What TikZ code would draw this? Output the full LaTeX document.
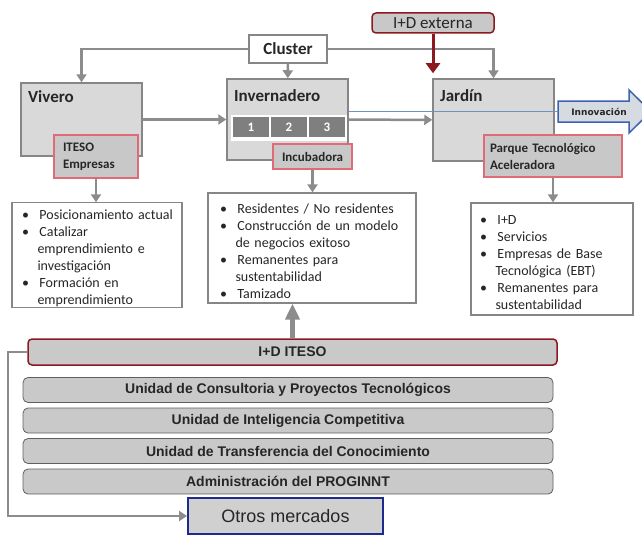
\documentclass[tikz,border=0pt]{standalone}
\usepackage{fontspec}
\setmainfont{Carlito}
\newfontfamily\arialf{Liberation Sans}
\newfontfamily\verdf{DejaVu Sans}
\usetikzlibrary{arrows.meta}

\definecolor{framegray}{HTML}{868686}
\definecolor{linegray}{HTML}{8C8C8C}
\definecolor{stagefill}{HTML}{D9D9D9}
\definecolor{tagfill}{HTML}{C8C8C8}
\definecolor{tagred}{HTML}{E06A76}
\definecolor{cellgray}{HTML}{7F7F7F}
\definecolor{extred}{HTML}{8B1A1E}
\definecolor{innblue}{HTML}{3B63B2}
\definecolor{innfill}{HTML}{D6DAE1}
\definecolor{innline}{HTML}{7090C8}
\definecolor{unitfill}{HTML}{C9C9C9}
\definecolor{unitborder}{HTML}{5F5F5F}
\definecolor{otrosblue}{HTML}{1C2A8E}
\definecolor{otrosfill}{HTML}{D0D0D0}
\definecolor{txt}{HTML}{262626}

\newenvironment{bullets}{\begin{list}{\textbullet}{\setlength\leftmargin{15.5pt}%
  \setlength\labelwidth{5pt}\setlength\labelsep{10.5pt}\setlength\itemsep{0pt}%
  \setlength\parsep{0pt}\setlength\topsep{0pt}\setlength\partopsep{0pt}%
  \setlength\rightmargin{-20pt}}}{\end{list}}

\begin{document}
\begin{tikzpicture}[x=1pt, y=-1pt, >={Triangle[width=10pt,length=8pt]},
    stage/.style={draw=framegray, line width=1.5pt, fill=stagefill, minimum width=121pt},
    title/.style={font=\fontsize{17}{20}\selectfont\bfseries, text=txt, anchor=base west, inner sep=0pt},
    tag/.style={draw=tagred, line width=1.2pt, fill=tagfill, inner sep=0pt, align=left,
      font=\fontsize{13}{17}\selectfont\bfseries, text=txt},
    cell/.style={fill=cellgray, text=white, minimum width=36pt, minimum height=20pt, inner sep=0pt,
      font=\fontsize{13}{15}\selectfont\bfseries},
    conn/.style={draw=linegray, line width=2.5pt, ->},
    listbox/.style={draw=framegray, line width=1.2pt, fill=white, inner ysep=0pt, align=left,
      font=\fontsize{14}{17}\selectfont, text=txt},
    unit/.style={draw=unitborder, line width=0.8pt, fill=unitfill, rounded corners=5pt,
      minimum width=530pt, minimum height=25pt, inner sep=0pt,
      font=\arialf\fontsize{14}{17}\selectfont\bfseries, text=txt}]
  \useasboundingbox (0,0) rectangle (642,535);

  \node[stage, minimum height=73pt] (viv) at (81.5,119.5) {};
  \node[title] (viv-t) at (28,102) {Vivero};
  \node[stage, minimum height=81pt] (inv) at (287.5,119.5) {};
  \node[title] (inv-t) at (234,101) {Invernadero};
  \node[stage, minimum height=82pt] (jar) at (493.5,120) {};
  \node[title] (jar-t) at (440,101) {Jardín};

  \fill[white] (231,115) rectangle (347,141);
  \foreach \n/\cx in {1/251,2/289,3/327}
    \node[cell] (cell\n) at (\cx,127) {\n};

  \node[tag, minimum width=84pt, minimum height=43pt, text width=66pt] (ite) at (96,156.5) {ITESO\\Empresas};
  \node[tag, minimum width=79pt, minimum height=25pt] (inc) at (312.5,156.5) {Incubadora};
  \node[tag, minimum width=138pt, minimum height=42pt, text width=126pt] (par) at (553,156) {Parque Tecnológico\\Aceleradora};

  \node[draw=framegray, line width=1.5pt, fill=white, minimum width=78pt, minimum height=28pt,
    font=\fontsize{17}{20}\selectfont\bfseries, text=txt] (clu) at (288,49) {Cluster};
  \node[draw=extred, line width=1.5pt, fill=tagfill, rounded corners=4pt, minimum width=122pt,
    minimum height=20pt, inner sep=0pt, font=\fontsize{17}{20}\selectfont, text=txt] (ide) at (433,23) {I+D externa};

  \filldraw[draw=innblue, fill=innfill, line width=1.5pt]
    (558,101) -- (629,101) -- (629,90) -- (651,111.5) -- (629,133) -- (629,122) -- (558,122) -- cycle;
  \node[font=\verdf\fontsize{9}{11}\selectfont\bfseries, text=txt] (innov) at (599,111.5) {Innovación};
  \coordinate (innov-in) at (558,111.5);

  \draw[conn] (clu.west) -| (viv.north);
  \draw[conn] (clu.east) -| (jar.north);
  \draw[conn] (clu) -- (inv);
  \draw[conn] (viv) -- (inv);
  \draw[conn] (inv) -- (jar);
  \draw[innline, line width=0.8pt] (inv.east |- innov-in) -- (innov-in);
  \draw[extred, line width=3pt, -{Triangle[width=14pt,length=10pt]}, shorten >=5pt]
    (ide.south) -- (ide.south |- jar.north);

  \node[listbox, minimum width=170pt, minimum height=104pt, text width=150pt, inner xsep=10pt] (lviv) at (97,255) {%
    \begin{bullets}
      \item Posicionamiento actual
      \item Catalizar\\ emprendimiento e\\ investigación
      \item Formación en\\ emprendimiento
    \end{bullets}};
  \node[listbox, minimum width=208pt, minimum height=110pt, text width=184pt, inner xsep=12pt] (linv) at (312,248) {%
    \begin{bullets}
      \item Residentes / No residentes
      \item Construcción de un modelo\\ de negocios exitoso
      \item Remanentes para\\ sustentabilidad
      \item Tamizado
    \end{bullets}};
  \node[listbox, minimum width=162pt, minimum height=112pt, text width=144pt, inner xsep=9pt] (ljar) at (552,259) {%
    \begin{bullets}
      \item I+D
      \item Servicios
      \item Empresas de Base\\ Tecnológica (EBT)
      \item Remanentes para\\ sustentabilidad
    \end{bullets}};

  \draw[conn] (ite.south) -- (ite.south |- lviv.north);
  \draw[conn] (inc.south) -- (inc.south |- linv.north);
  \draw[conn] (par.south) -- (par.south |- ljar.north);

  \node[draw=extred, line width=1.5pt, fill=unitfill, rounded corners=4pt, minimum width=529pt,
    minimum height=26pt, inner sep=0pt, font=\arialf\fontsize{14}{17}\selectfont\bfseries, text=txt] (idi) at (292.5,352) {I+D ITESO};
  \foreach \t [count=\k from 0] in {Unidad de Consultoria y Proyectos Tecnológicos,
      Unidad de Inteligencia Competitiva, Unidad de Transferencia del Conocimiento,
      Administración del PROGINNT}
    \node[unit] (unit\k) at (288,390+30.5*\k) {\t};
  \node[draw=otrosblue, line width=2pt, fill=otrosfill, minimum width=195pt, minimum height=36pt,
    font=\arialf\fontsize{18}{20}\selectfont, text=txt] (otros) at (285.5,516) {Otros mercados};

  \draw[linegray, line width=5pt, -{Triangle[width=14pt,length=16pt]}] (idi.north) -- (idi.north |- linv.south);
  \draw[conn, line width=2pt] (idi.west) -- ++(-19,0) |- (otros.west);
\end{tikzpicture}
\end{document}
